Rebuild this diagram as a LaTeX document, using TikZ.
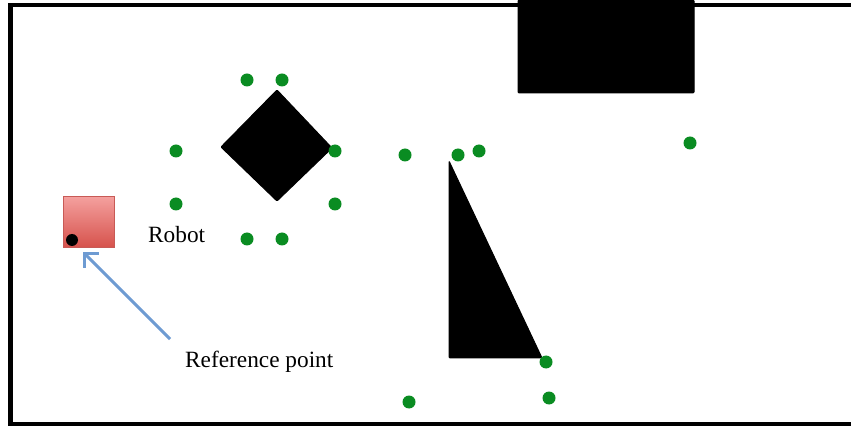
\documentclass[tikz,border=0pt]{standalone}
\usepackage{fontspec}
\setmainfont{Liberation Serif}
\usetikzlibrary{arrows.meta}
\definecolor{dotgreen}{RGB}{10,140,34}
\definecolor{robtop}{RGB}{244,160,158}
\definecolor{robbot}{RGB}{214,82,76}
\definecolor{robedge}{RGB}{200,90,86}
\definecolor{arrowblue}{RGB}{110,155,210}
\tikzset{
  wp/.style={circle, fill=dotgreen, inner sep=0pt, minimum size=13pt},
  obst/.style={fill=black, draw=black, line width=1pt, rounded corners=1pt},
  lbl/.style={font=\fontsize{23.3}{27}\selectfont, inner sep=0pt, anchor=base west},
  robotbox/.style={draw=robedge, line width=0.8pt, top color=robtop, bottom color=robbot, minimum width=51pt, minimum height=51pt, inner sep=0pt},
  refdot/.style={circle, fill=black, inner sep=0pt, minimum size=12pt},
  pointer/.style={draw=arrowblue, line width=3pt, -{Straight Barb[length=10pt,width=20pt,line width=3pt]}}
}
\begin{document}
\begin{tikzpicture}[x=1pt,y=-1pt]
\useasboundingbox (0,0) rectangle (851,427);
\clip (0,0) rectangle (851,427);
\fill[white] (0,0) rectangle (851,427);
% frame
\draw[line width=4.5pt] (870,5) -- (10.5,5) -- (10.5,424) -- (870,424);
% obstacles
\path[obst] (518,0) -- (694,0) -- (694,93) -- (518,93) -- cycle;
\path[obst] (277,90) -- (332,148) -- (277,201) -- (221,147) -- cycle;
\path[obst] (449,161) -- (542,358) -- (449,358) -- cycle;
% waypoints
\node[wp] (w1) at (247,80) {};
\node[wp] (w2) at (282,80) {};
\node[wp] (w3) at (176,151) {};
\node[wp] (w4) at (335,151) {};
\node[wp] (w5) at (176,204) {};
\node[wp] (w6) at (335,204) {};
\node[wp] (w7) at (247,239) {};
\node[wp] (w8) at (282,239) {};
\node[wp] (w9) at (405,155) {};
\node[wp] (w10) at (458,155) {};
\node[wp] (w11) at (479,151) {};
\node[wp] (w12) at (690,143) {};
\node[wp] (w13) at (546,362) {};
\node[wp] (w14) at (549,398) {};
\node[wp] (w15) at (409,402) {};
% robot
\node[robotbox] (robot) at (89,222) {};
\node[refdot] (ref) at (72,240) {};
\node[lbl] (robotlbl) at (148,243) {Robot};
\node[lbl] (reflbl) at (185,367) {Reference point};
\coordinate (tail) at (170,339);
\coordinate (tip) at (83,252);
\draw[pointer] (tail) -- (tip);
\end{tikzpicture}
\end{document}
